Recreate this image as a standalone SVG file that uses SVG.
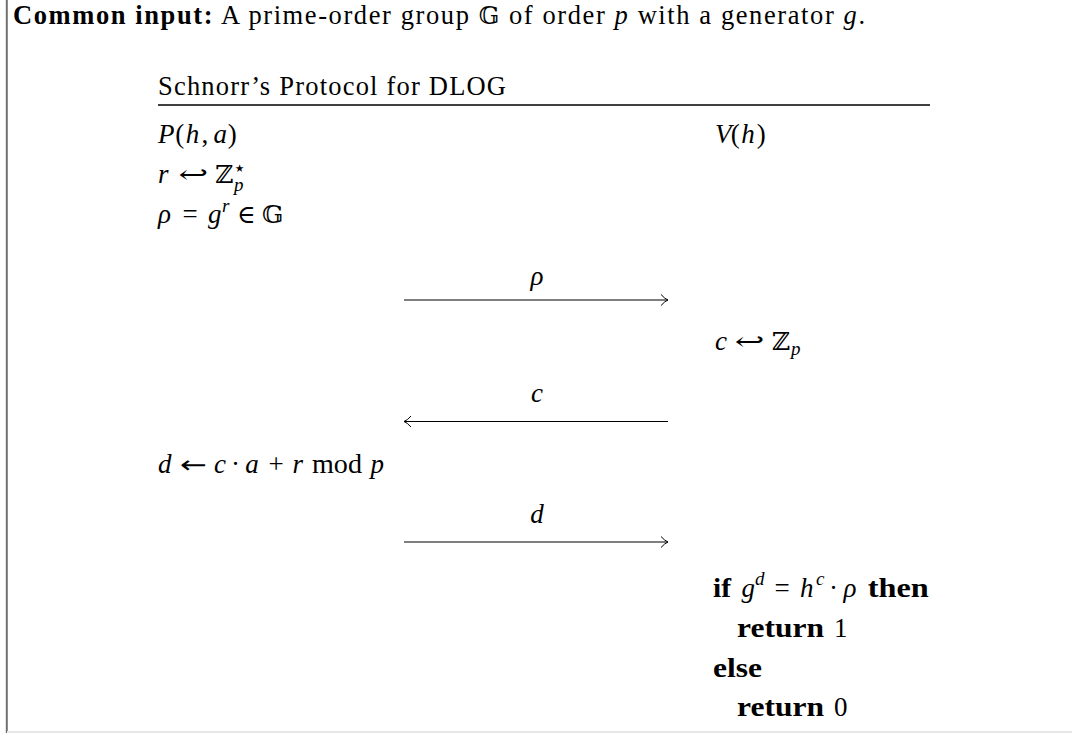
<svg xmlns="http://www.w3.org/2000/svg" width="1072" height="733" viewBox="0 0 1072 733">
<defs>
<style>
.t{font-family:"Liberation Serif",serif;font-size:26.5px;fill:#000}
.m{font-family:"Liberation Serif",serif;font-size:27px;font-style:italic;fill:#000}
.u{font-style:normal}
.op{font-style:normal;text-anchor:middle}
.s{font-family:"DejaVu Serif",serif;font-size:25px;font-style:normal}
.ar{font-family:"DejaVu Sans",sans-serif;font-size:24px;font-style:normal}
.st{font-family:"DejaVu Sans",sans-serif;font-size:21px;font-style:normal}
.sc{font-size:19px}
.b{font-family:"Liberation Serif",serif;font-size:27px;font-weight:bold;fill:#000}
.lab{font-family:"Liberation Serif",serif;font-size:27px;font-style:italic;fill:#000;text-anchor:middle}
.arr{stroke:#000;stroke-width:1.1;fill:none}
</style>
<marker id="ah" markerUnits="userSpaceOnUse" viewBox="-9 -7 11 14" refX="0" refY="0" markerWidth="11" markerHeight="14" orient="auto">
<path d="M-7,-5.5 Q-3,-1 0,0 Q-3,1 -7,5.5" stroke="#000" stroke-width="1" fill="none"/>
</marker>
</defs>
<rect width="1072" height="733" fill="#fff"/>
<line x1="6.8" y1="0" x2="6.8" y2="733" stroke="#707070" stroke-width="2"/>
<line x1="7" y1="732" x2="1072" y2="732" stroke="#e6e6e6" stroke-width="2"/>

<g id="common-input">
<text class="t" x="13" y="24" textLength="852" lengthAdjust="spacing"><tspan font-weight="bold">Common input:</tspan> A prime-order group <tspan font-family="DejaVu Serif" font-size="24">𝔾</tspan> of order <tspan font-style="italic">p</tspan> with a generator <tspan font-style="italic">g</tspan>.</text>
</g>

<g id="title">
<text class="t" x="158" y="95" font-size="27" textLength="348" lengthAdjust="spacing">Schnorr’s Protocol for DLOG</text>
<line x1="158" y1="105" x2="930" y2="105" stroke="#000" stroke-width="1.3"/>
</g>

<g id="prover">
<text class="m" y="143"><tspan x="158">P</tspan><tspan class="u" x="175.3">(</tspan><tspan x="185.8">h</tspan><tspan class="u" x="201.4">,</tspan><tspan x="213.4">a</tspan><tspan class="u" x="227.7">)</tspan></text>

<text class="m" y="183"><tspan x="158">r</tspan><tspan class="s" x="215">ℤ</tspan><tspan class="st" x="233" y="175">⋆</tspan><tspan class="sc" x="234" y="191">p</tspan></text>
<text class="m s" x="178" y="183" textLength="30" lengthAdjust="spacingAndGlyphs">↩</text>

<text class="m" y="223"><tspan x="158">ρ</tspan><tspan class="op" x="190">=</tspan><tspan x="208">g</tspan><tspan class="sc" x="222" y="212">r</tspan><tspan class="s" x="237" y="223">∈</tspan><tspan class="s" x="262">𝔾</tspan></text>

<text class="m" y="473"><tspan x="158">d</tspan><tspan x="214">c</tspan><tspan class="op" x="235.5">·</tspan><tspan x="245.2">a</tspan><tspan class="op" x="276">+</tspan><tspan x="292.5">r</tspan><tspan x="370.5">p</tspan></text>
<text class="m ar" x="180" y="473" textLength="27" lengthAdjust="spacingAndGlyphs">←</text>
<text class="m u" x="312" y="473" textLength="50" lengthAdjust="spacingAndGlyphs">mod</text>
</g>

<g id="verifier">
<text class="m" y="143"><tspan x="715">V</tspan><tspan class="u" x="730.7">(</tspan><tspan x="741.2">h</tspan><tspan class="u" x="756.8">)</tspan></text>

<text class="m" y="350"><tspan x="715">c</tspan><tspan class="s" x="771.7">ℤ</tspan><tspan class="sc" x="791" y="355">p</tspan></text>
<text class="m s" x="734.2" y="350" textLength="30" lengthAdjust="spacingAndGlyphs">↩</text>

<text class="b" x="713" y="597" textLength="18" lengthAdjust="spacingAndGlyphs">if</text>
<text class="m" y="597"><tspan x="741.4">g</tspan><tspan class="sc" x="755" y="585">d</tspan><tspan class="op" x="782.1" y="597">=</tspan><tspan x="800.1">h</tspan><tspan class="sc" x="816" y="585">c</tspan><tspan class="op" x="833.6" y="597">·</tspan><tspan x="843.4">ρ</tspan></text>
<text class="b" x="867.7" y="597" textLength="61" lengthAdjust="spacingAndGlyphs">then</text>

<text class="b" x="737" y="637" textLength="87" lengthAdjust="spacingAndGlyphs">return</text>
<text class="m u" x="834" y="637">1</text>
<text class="b" x="713" y="677" textLength="49" lengthAdjust="spacingAndGlyphs">else</text>
<text class="b" x="737" y="716" textLength="87" lengthAdjust="spacingAndGlyphs">return</text>
<text class="m u" x="834" y="716">0</text>
</g>

<g id="connectors">
<line class="arr" x1="404" y1="300" x2="668" y2="300" marker-end="url(#ah)"/>
<text class="lab" x="537" y="285">ρ</text>
<line class="arr" x1="668" y1="421.5" x2="404" y2="421.5" marker-end="url(#ah)"/>
<text class="lab" x="537" y="402">c</text>
<line class="arr" x1="404" y1="542" x2="668" y2="542" marker-end="url(#ah)"/>
<text class="lab" x="537" y="523">d</text>
</g>
</svg>
